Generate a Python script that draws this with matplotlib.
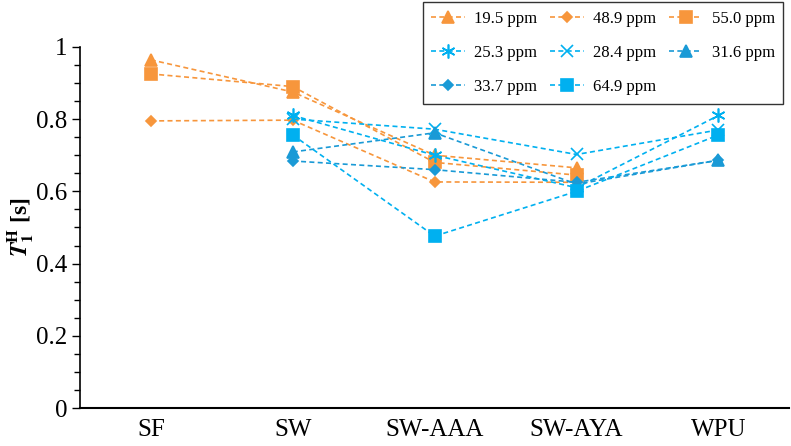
import matplotlib.pyplot as plt
import numpy as np
from matplotlib.ticker import MultipleLocator

plt.rcParams['font.family'] = ['Liberation Serif', 'DejaVu Serif']
plt.rcParams['mathtext.fontset'] = 'stix'

# categories on the x axis
samples = ['SF', 'SW', 'SW-AAA', 'SW-AYA', 'WPU']

# T1H values [s] per chemical shift (None = not measured)
t_19_5 = [0.964, 0.875, 0.700, 0.665, None]
t_48_9 = [0.795, 0.797, 0.626, 0.625, None]
t_55_0 = [0.925, 0.890, 0.680, 0.645, None]
t_25_3 = [None, 0.810, 0.700, 0.610, 0.810]
t_28_4 = [None, 0.800, 0.772, 0.702, 0.770]
t_31_6 = [None, 0.709, 0.762, 0.620, 0.686]
t_33_7 = [None, 0.684, 0.660, 0.625, 0.686]
t_64_9 = [None, 0.756, 0.476, 0.600, 0.756]

labels = ['19.5 ppm', '48.9 ppm', '55.0 ppm', '25.3 ppm', '28.4 ppm',
          '31.6 ppm', '33.7 ppm', '64.9 ppm']
series = [t_19_5, t_48_9, t_55_0, t_25_3, t_28_4, t_31_6, t_33_7, t_64_9]

orange = '#F7963C'
blue = '#00B0F0'
dblue = '#1A9AD6'
colors = [orange, orange, orange, blue, blue, dblue, dblue, blue]
markers = ['^', 'D', 's', (6, 2, 0), 'x', '^', 'D', 's']
msizes = [8, 5.5, 8, 10, 8, 8, 5.5, 8]

fig = plt.figure(figsize=(7.91, 4.46), dpi=100)
ax = fig.add_axes([0.101, 0.085, 0.897, 0.81])

x = np.arange(len(samples))
handles = []
for vals, lab, c, m, ms in zip(series, labels, colors, markers, msizes):
    idx = [i for i, v in enumerate(vals) if v is not None]
    h, = ax.plot(x[idx], [vals[i] for i in idx], linestyle=(0, (3, 2)), lw=1.2,
                 color=c, marker=m, markersize=ms, markeredgewidth=1.2,
                 markerfacecolor=c, markeredgecolor=c, label=lab)
    handles.append(h)

ax.set_xlim(-0.5, len(samples) - 0.5)
ax.set_ylim(0, 1)
ax.set_xticks(x)
ax.set_xticklabels(samples, fontsize=18)
ax.tick_params(axis='x', length=0, pad=8)
ax.yaxis.set_minor_locator(MultipleLocator(0.05))
ax.set_yticks([0, 0.2, 0.4, 0.6, 0.8, 1.0])
ax.set_yticklabels(['0', '0.2', '0.4', '0.6', '0.8', '1'], fontsize=18)
ax.tick_params(axis='y', which='major', length=6, width=1, direction='out',
               pad=3)
ax.tick_params(axis='y', which='minor', length=4, width=1, direction='out')
ax.spines['top'].set_visible(False)
ax.spines['right'].set_visible(False)
ax.spines['left'].set_linewidth(1.2)
ax.spines['bottom'].set_linewidth(1.5)

ax.set_ylabel(r'$\mathbfit{T}_{\mathbf{1}}^{\mathbf{H}}$ [s]', fontsize=17,
              fontweight='bold', labelpad=0)

# legend filled row by row (3 columns)
order = [0, 3, 6, 1, 4, 7, 2, 5]
leg = fig.legend([handles[i] for i in order], [labels[i] for i in order],
                 loc='upper right', bbox_to_anchor=(0.99, 0.995), ncol=3,
                 fontsize=12, frameon=True, fancybox=False, edgecolor='black',
                 handlelength=2.0, columnspacing=0.8, labelspacing=1.1,
                 borderpad=0.5, handletextpad=0.55, borderaxespad=0)
leg.get_frame().set_linewidth(1.0)

fig.savefig('out.png', dpi=100)
